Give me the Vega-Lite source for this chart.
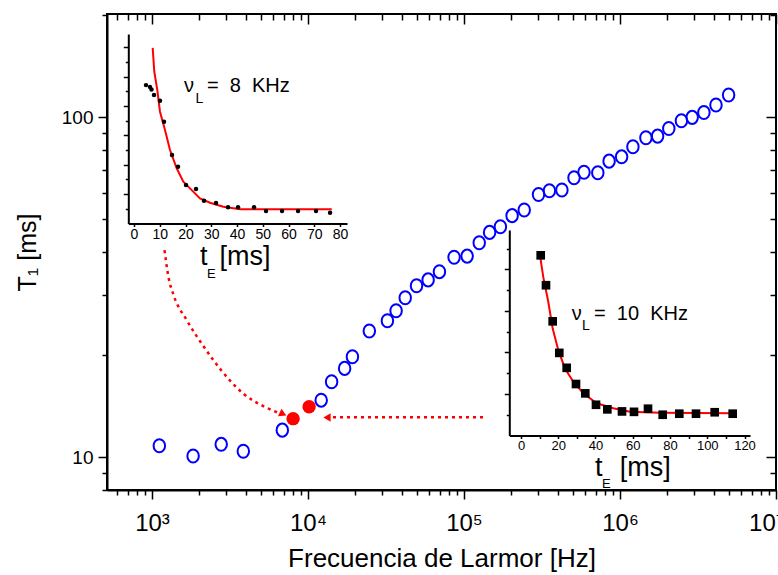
{
  "$schema": "https://vega.github.io/schema/vega-lite/v6.json",
  "width": 669,
  "height": 476,
  "autosize": {"type": "none"},
  "padding": {"left": 107, "top": 14, "right": 2, "bottom": 85},
  "background": "white",
  "config": {
    "font": "Liberation Sans",
    "view": {"stroke": "#000000", "strokeWidth": 2},
    "axis": {"grid": false, "domainColor": "#000000", "tickColor": "#000000", "labelColor": "#000000", "titleColor": "#000000", "titleFontWeight": "normal", "domainWidth": 2, "tickWidth": 1.5, "labelFont": "Liberation Sans", "titleFont": "Liberation Sans"}
  },
  "datasets": {
    "main": [
      {"f": 1114, "t1": 10.8}, {"f": 1834, "t1": 10.07}, {"f": 2777, "t1": 10.9}, {"f": 3848, "t1": 10.4},
      {"f": 6844, "t1": 12.0}, {"f": 12150, "t1": 14.7}, {"f": 14170, "t1": 16.66}, {"f": 17170, "t1": 18.23},
      {"f": 19260, "t1": 19.72}, {"f": 24720, "t1": 23.48}, {"f": 32280, "t1": 25.17}, {"f": 36700, "t1": 26.94},
      {"f": 41990, "t1": 29.41}, {"f": 49620, "t1": 31.9}, {"f": 58880, "t1": 33.2}, {"f": 69560, "t1": 35.1},
      {"f": 86390, "t1": 38.7}, {"f": 104700, "t1": 39.0}, {"f": 125200, "t1": 42.7}, {"f": 145900, "t1": 45.8},
      {"f": 171100, "t1": 47.6}, {"f": 203400, "t1": 51.3}, {"f": 243200, "t1": 53.3}, {"f": 300400, "t1": 59.2},
      {"f": 352700, "t1": 60.7}, {"f": 424200, "t1": 61.0}, {"f": 507300, "t1": 66.3}, {"f": 587700, "t1": 68.8},
      {"f": 720600, "t1": 68.6}, {"f": 851300, "t1": 74.2}, {"f": 1024000, "t1": 76.4}, {"f": 1210000, "t1": 81.8},
      {"f": 1466000, "t1": 86.9}, {"f": 1742000, "t1": 87.9}, {"f": 2055000, "t1": 92.6}, {"f": 2475000, "t1": 97.5},
      {"f": 2903000, "t1": 99.8}, {"f": 3450000, "t1": 103.2}, {"f": 4124000, "t1": 108.5}, {"f": 4968000, "t1": 116.1}
    ],
    "red": [{"f": 8026, "t1": 12.97}, {"f": 10164, "t1": 14.06}],
    "arc": [
      {"f": 1203, "t1": 40.6}, {"f": 1274, "t1": 33.9}, {"f": 1375, "t1": 29.96}, {"f": 1667, "t1": 25.3},
      {"f": 2151, "t1": 21.1}, {"f": 2777, "t1": 18.0}, {"f": 3825, "t1": 15.4}, {"f": 5263, "t1": 14.06},
      {"f": 6520, "t1": 13.47}
    ],
    "harrow": [{"f": 14460, "t1": 13.09}, {"f": 132400, "t1": 13.09}],
    "ins1pts": [
      {"te": 4.66, "m": 9.42}, {"te": 6.2, "m": 9.3}, {"te": 6.8, "m": 9.12}, {"te": 7.77, "m": 8.74},
      {"te": 10.1, "m": 8.35}, {"te": 11.65, "m": 6.93}, {"te": 14.76, "m": 4.66}, {"te": 17.09, "m": 3.86},
      {"te": 20.19, "m": 2.62}, {"te": 24.08, "m": 2.35}, {"te": 27.18, "m": 1.55}, {"te": 31.84, "m": 1.39},
      {"te": 36.5, "m": 1.1}, {"te": 40.39, "m": 1.1}, {"te": 46.6, "m": 1.1}, {"te": 51.26, "m": 0.85},
      {"te": 57.48, "m": 0.85}, {"te": 63.69, "m": 0.85}, {"te": 70.68, "m": 0.85}, {"te": 76.12, "m": 0.73}
    ],
    "ins1fit": [
      {"te": 7.26, "m": 11.96}, {"te": 7.88, "m": 10.33}, {"te": 9.05, "m": 9.08}, {"te": 10.1, "m": 7.61},
      {"te": 12.04, "m": 6.36}, {"te": 13.98, "m": 5.0}, {"te": 16.58, "m": 3.76}, {"te": 19.15, "m": 2.84},
      {"te": 21.75, "m": 2.39}, {"te": 25.63, "m": 1.71}, {"te": 29.51, "m": 1.41}, {"te": 34.68, "m": 1.14},
      {"te": 41.17, "m": 0.97}, {"te": 76.78, "m": 0.97}
    ],
    "ins2pts": [
      {"te": 10.58, "m": 8.68}, {"te": 13.42, "m": 7.24}, {"te": 17.02, "m": 5.5}, {"te": 20.56, "m": 3.98},
      {"te": 24.54, "m": 3.26}, {"te": 29.53, "m": 2.48}, {"te": 34.52, "m": 2.03}, {"te": 40.27, "m": 1.48},
      {"te": 46.34, "m": 1.26}, {"te": 54.23, "m": 1.16}, {"te": 60.67, "m": 1.14}, {"te": 68.19, "m": 1.29},
      {"te": 76.08, "m": 1.0}, {"te": 84.99, "m": 1.05}, {"te": 93.96, "m": 1.05}, {"te": 104.0, "m": 1.12},
      {"te": 113.66, "m": 1.05}
    ],
    "ins2fit": [
      {"te": 10.2, "m": 8.68}, {"te": 11.97, "m": 7.63}, {"te": 14.66, "m": 6.43}, {"te": 17.02, "m": 5.15},
      {"te": 20.03, "m": 4.11}, {"te": 23.62, "m": 3.23}, {"te": 28.08, "m": 2.59}, {"te": 33.45, "m": 2.03},
      {"te": 40.64, "m": 1.55}, {"te": 49.56, "m": 1.31}, {"te": 58.52, "m": 1.14}, {"te": 74.63, "m": 1.1},
      {"te": 114.0, "m": 1.07}
    ],
    "ins1big": [{"txt": "ν", "te": 19.4, "m": 8.95}, {"txt": "=\u00a0\u00a08\u00a0\u00a0KHz", "te": 28.3, "m": 8.95}],
    "ins1sub": [{"txt": "L", "te": 23.9, "m": 8.22}],
    "ins1title": [{"txt": "t", "te": 25.6, "m": -2.85}, {"txt": "[ms]", "te": 33.2, "m": -2.85}],
    "ins1titlesub": [{"txt": "E", "te": 28.3, "m": -3.71}],
    "ins2big": [{"txt": "ν", "te": 27.2, "m": 5.55}, {"txt": "=\u00a0\u00a010\u00a0\u00a0KHz", "te": 39.2, "m": 5.55}],
    "ins2sub": [{"txt": "L", "te": 32.75, "m": 5.07}],
    "ins2title": [{"txt": "t", "te": 39.7, "m": -1.95}, {"txt": "[ms]", "te": 53.0, "m": -1.95}],
    "ins2titlesub": [{"txt": "E", "te": 43.5, "m": -2.55}]
  },
  "layer": [
    {
      "layer": [
        {
          "data": {"name": "main"},
          "mark": {"type": "point", "shape": "M-0.88,0A0.88,1,0,1,0,0.88,0A0.88,1,0,1,0,-0.88,0Z", "filled": false, "stroke": "#0000ff", "strokeWidth": 2, "size": 170, "opacity": 1},
          "encoding": {
            "x": {
              "field": "f", "type": "quantitative",
              "scale": {"type": "log", "domain": [514.6, 10000000], "nice": false},
              "axis": {
                "orient": "bottom",
                "values": [600, 700, 800, 900, 1000, 2000, 3000, 4000, 5000, 6000, 7000, 8000, 9000, 10000, 20000, 30000, 40000, 50000, 60000, 70000, 80000, 90000, 100000, 200000, 300000, 400000, 500000, 600000, 700000, 800000, 900000, 1000000, 2000000, 3000000, 4000000, 5000000, 6000000, 7000000, 8000000, 9000000, 10000000],
                "labelExpr": "datum.value == 1000 ? '10³' : datum.value == 10000 ? '10⁴' : datum.value == 100000 ? '10⁵' : datum.value == 1000000 ? '10⁶' : datum.value == 10000000 ? '10⁷' : ''",
                "tickSize": {"condition": {"test": "datum.value == 1000 || datum.value == 10000 || datum.value == 100000 || datum.value == 1000000 || datum.value == 10000000", "value": 9}, "value": 5},
                "labelFontSize": 24, "labelPadding": 12, "labelOverlap": false, "labelBound": false, "labelFlush": true, "labelFlushOffset": 8,
                "title": "Frecuencia de Larmor [Hz]", "titleFontSize": 26, "titlePadding": 10
              }
            },
            "y": {
              "field": "t1", "type": "quantitative",
              "scale": {"type": "log", "domain": [8, 201], "nice": false},
              "axis": {
                "orient": "left",
                "values": [8, 9, 10, 20, 30, 40, 50, 60, 70, 80, 90, 100, 200],
                "labelExpr": "datum.value == 10 ? '10' : datum.value == 100 ? '100' : ''",
                "tickSize": {"condition": {"test": "datum.value == 10 || datum.value == 100", "value": 9}, "value": 5},
                "labelFontSize": 19, "labelPadding": 5, "labelOverlap": false, "labelBound": false, "labelFlush": false,
                "title": "T₁ [ms]", "titleFontSize": 25, "titlePadding": 21
              }
            }
          }
        },
        {
          "data": {"name": "red"},
          "mark": {"type": "point", "shape": "circle", "filled": true, "color": "#ff0000", "size": 180, "opacity": 1},
          "encoding": {
            "x": {"field": "f", "type": "quantitative", "axis": null},
            "y": {"field": "t1", "type": "quantitative", "axis": null}
          }
        },
        {
          "data": {"name": "arc"},
          "mark": {"type": "line", "color": "#ff0000", "strokeWidth": 2.5, "strokeDash": [3, 4], "interpolate": "monotone"},
          "encoding": {
            "x": {"field": "f", "type": "quantitative", "axis": null},
            "y": {"field": "t1", "type": "quantitative", "axis": null}
          }
        },
        {
          "data": {"name": "harrow"},
          "mark": {"type": "line", "color": "#ff0000", "strokeWidth": 2.5, "strokeDash": [3, 4]},
          "encoding": {
            "x": {"field": "f", "type": "quantitative", "axis": null},
            "y": {"field": "t1", "type": "quantitative", "axis": null}
          }
        },
        {
          "data": {"values": [{"f": 13240, "t1": 13.07}]},
          "mark": {"type": "point", "shape": "triangle-left", "filled": true, "color": "#ff0000", "size": 70, "opacity": 1},
          "encoding": {
            "x": {"field": "f", "type": "quantitative", "axis": null},
            "y": {"field": "t1", "type": "quantitative", "axis": null}
          }
        },
        {
          "data": {"values": [{"f": 6915, "t1": 13.38}]},
          "mark": {"type": "point", "shape": "triangle-right", "filled": true, "color": "#ff0000", "size": 70, "angle": 25, "opacity": 1},
          "encoding": {
            "x": {"field": "f", "type": "quantitative", "axis": null},
            "y": {"field": "t1", "type": "quantitative", "axis": null}
          }
        },
        {
          "data": {"name": "main"},
          "mark": {"type": "point", "opacity": 0},
          "encoding": {
            "x": {
              "field": "f", "type": "quantitative",
              "axis": {
                "orient": "top", "labels": false, "domain": false, "title": null,
                "values": [600, 700, 800, 900, 1000, 2000, 3000, 4000, 5000, 6000, 7000, 8000, 9000, 10000, 20000, 30000, 40000, 50000, 60000, 70000, 80000, 90000, 100000, 200000, 300000, 400000, 500000, 600000, 700000, 800000, 900000, 1000000, 2000000, 3000000, 4000000, 5000000, 6000000, 7000000, 8000000, 9000000, 10000000],
                "tickSize": {"condition": {"test": "datum.value == 1000 || datum.value == 10000 || datum.value == 100000 || datum.value == 1000000 || datum.value == 10000000", "value": -10}, "value": -6}
              }
            },
            "y": {
              "field": "t1", "type": "quantitative",
              "axis": {
                "orient": "right", "labels": false, "domain": false, "title": null,
                "values": [8, 9, 10, 20, 30, 40, 50, 60, 70, 80, 90, 100, 200],
                "tickSize": {"condition": {"test": "datum.value == 10 || datum.value == 100", "value": -10}, "value": -6}
              }
            }
          }
        }
      ],
      "resolve": {"axis": {"x": "independent", "y": "independent"}}
    },
    {
      "layer": [
        {
          "data": {"name": "ins1fit"},
          "mark": {"type": "line", "color": "#ff0000", "strokeWidth": 2},
          "encoding": {
            "x": {
              "field": "te", "type": "quantitative",
              "scale": {"domain": [-2.21, 82.7], "range": [21.3, 240], "nice": false, "zero": false},
              "axis": {"orient": "bottom", "offset": -266.5, "values": [0, 10, 20, 30, 40, 50, 60, 70, 80], "tickSize": 3, "labelFontSize": 14, "labelPadding": 1, "title": null, "labelOverlap": false, "labelBound": false, "labelFlush": false}
            },
            "y": {
              "field": "m", "type": "quantitative",
              "scale": {"domain": [0, 12.9], "range": [209.5, 20], "nice": false, "zero": false},
              "axis": {"orient": "left", "offset": -21.3, "values": [1, 2, 3, 4, 5, 6, 7, 8, 9, 10, 11, 12], "labels": false, "title": null,
                "tickSize": {"condition": {"test": "datum.value % 2 == 0", "value": 5}, "value": 3}}
            }
          }
        },
        {
          "data": {"name": "ins1pts"},
          "mark": {"type": "point", "shape": "circle", "filled": true, "color": "#000000", "size": 20, "opacity": 1},
          "encoding": {
            "x": {"field": "te", "type": "quantitative"},
            "y": {"field": "m", "type": "quantitative"}
          }
        },
        {
          "data": {"name": "ins1big"},
          "mark": {"type": "text", "align": "left", "baseline": "alphabetic", "fontSize": 20, "color": "#000000"},
          "encoding": {
            "x": {"field": "te", "type": "quantitative"},
            "y": {"field": "m", "type": "quantitative"},
            "text": {"field": "txt"}
          }
        },
        {
          "data": {"name": "ins1sub"},
          "mark": {"type": "text", "align": "left", "baseline": "alphabetic", "fontSize": 14, "color": "#000000"},
          "encoding": {
            "x": {"field": "te", "type": "quantitative"},
            "y": {"field": "m", "type": "quantitative"},
            "text": {"field": "txt"}
          }
        },
        {
          "data": {"name": "ins1title"},
          "mark": {"type": "text", "align": "left", "baseline": "alphabetic", "fontSize": 27, "color": "#000000"},
          "encoding": {
            "x": {"field": "te", "type": "quantitative"},
            "y": {"field": "m", "type": "quantitative"},
            "text": {"field": "txt"}
          }
        },
        {
          "data": {"name": "ins1titlesub"},
          "mark": {"type": "text", "align": "left", "baseline": "alphabetic", "fontSize": 13, "color": "#000000"},
          "encoding": {
            "x": {"field": "te", "type": "quantitative"},
            "y": {"field": "m", "type": "quantitative"},
            "text": {"field": "txt"}
          }
        }
      ]
    },
    {
      "layer": [
        {
          "data": {"name": "ins2fit"},
          "mark": {"type": "line", "color": "#ff0000", "strokeWidth": 2},
          "encoding": {
            "x": {
              "field": "te", "type": "quantitative",
              "scale": {"domain": [-6.28, 122.95], "range": [402.3, 643], "nice": false, "zero": false},
              "axis": {"orient": "bottom", "offset": -54.5, "values": [0, 10, 20, 30, 40, 50, 60, 70, 80, 90, 100, 110, 120], "tickSize": 3, "labelFontSize": 13, "labelPadding": 1, "title": null, "labelOverlap": false, "labelBound": false, "labelFlush": false,
                "labelExpr": "datum.value % 20 == 0 ? datum.label : ''"}
            },
            "y": {
              "field": "m", "type": "quantitative",
              "scale": {"domain": [0, 9.9], "range": [421.5, 216], "nice": false, "zero": false},
              "axis": {"orient": "left", "offset": -402.3, "values": [1, 2, 3, 4, 5, 6, 7, 8, 9], "labels": false, "title": null,
                "tickSize": {"condition": {"test": "datum.value % 2 == 0", "value": 5}, "value": 3}}
            }
          }
        },
        {
          "data": {"name": "ins2pts"},
          "mark": {"type": "point", "shape": "square", "filled": true, "color": "#000000", "size": 75, "opacity": 1},
          "encoding": {
            "x": {"field": "te", "type": "quantitative"},
            "y": {"field": "m", "type": "quantitative"}
          }
        },
        {
          "data": {"name": "ins2big"},
          "mark": {"type": "text", "align": "left", "baseline": "alphabetic", "fontSize": 20, "color": "#000000"},
          "encoding": {
            "x": {"field": "te", "type": "quantitative"},
            "y": {"field": "m", "type": "quantitative"},
            "text": {"field": "txt"}
          }
        },
        {
          "data": {"name": "ins2sub"},
          "mark": {"type": "text", "align": "left", "baseline": "alphabetic", "fontSize": 14, "color": "#000000"},
          "encoding": {
            "x": {"field": "te", "type": "quantitative"},
            "y": {"field": "m", "type": "quantitative"},
            "text": {"field": "txt"}
          }
        },
        {
          "data": {"name": "ins2title"},
          "mark": {"type": "text", "align": "left", "baseline": "alphabetic", "fontSize": 27, "color": "#000000"},
          "encoding": {
            "x": {"field": "te", "type": "quantitative"},
            "y": {"field": "m", "type": "quantitative"},
            "text": {"field": "txt"}
          }
        },
        {
          "data": {"name": "ins2titlesub"},
          "mark": {"type": "text", "align": "left", "baseline": "alphabetic", "fontSize": 13, "color": "#000000"},
          "encoding": {
            "x": {"field": "te", "type": "quantitative"},
            "y": {"field": "m", "type": "quantitative"},
            "text": {"field": "txt"}
          }
        }
      ]
    }
  ],
  "resolve": {"scale": {"x": "independent", "y": "independent"}, "axis": {"x": "independent", "y": "independent"}}
}
